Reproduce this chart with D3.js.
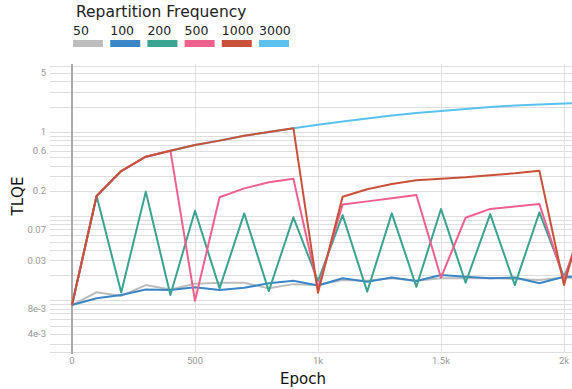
<!DOCTYPE html>
<html>
<head>
<meta charset="utf-8">
<script src="https://cdn.jsdelivr.net/npm/d3@7"></script>
<style>
  body { margin: 0; background: #fff; }
  svg { display: block; }
</style>
</head>
<body>
<div id="here"></div>
<script>
// DATA
const epochs = [0, 100, 200, 300, 400, 500, 600, 700, 800, 900, 1000,
                1100, 1200, 1300, 1400, 1500, 1600, 1700, 1800, 1900, 2000, 2100];

const freq50 = [0.0088, 0.0125, 0.0113, 0.0152, 0.0135, 0.0158, 0.0162, 0.0162, 0.0139, 0.0156, 0.0152,
                0.0175, 0.0171, 0.0183, 0.0171, 0.0183, 0.0183, 0.0185, 0.018, 0.0175, 0.0187, 0.0185];
const freq100 = [0.0088, 0.0106, 0.0116, 0.0135, 0.0133, 0.0143, 0.0133, 0.0141, 0.016, 0.0171, 0.015,
                 0.0183, 0.0167, 0.0187, 0.017, 0.020, 0.0191, 0.0183, 0.0187, 0.016, 0.0191, 0.019];
const freq200 = [0.0088, 0.174, 0.0124, 0.195, 0.0116, 0.116, 0.0139, 0.108, 0.0129, 0.097, 0.017,
                 0.103, 0.0127, 0.108, 0.0145, 0.122, 0.0162, 0.106, 0.0152, 0.111, 0.0191, 0.093];
const freq500 = [0.0088, 0.174, 0.344, 0.509, 0.6, 0.0099, 0.168, 0.214, 0.253, 0.279, 0.014,
                 0.138, 0.15, 0.163, 0.179, 0.0186, 0.096, 0.122, 0.13, 0.14, 0.0175, 0.14];
const freq1000 = [0.0088, 0.174, 0.344, 0.509, 0.6, 0.7, 0.79, 0.9, 1.0, 1.11, 0.0123,
                  0.17, 0.209, 0.241, 0.267, 0.279, 0.29, 0.306, 0.323, 0.347, 0.0152, 0.165];
const freq3000 = [0.0088, 0.174, 0.344, 0.509, 0.6, 0.7, 0.79, 0.9, 1.0, 1.11, 1.22,
                  1.33, 1.45, 1.57, 1.68, 1.78, 1.88, 1.98, 2.06, 2.12, 2.18, 2.24];

const seriesNames = ["50", "100", "200", "500", "1000", "3000"];
const seriesValues = [freq50, freq100, freq200, freq500, freq1000, freq3000];
const seriesColors = ["#bdbdbd", "#3b86c6", "#3ba391", "#f0608f", "#c9513a", "#5bc2ef"];
// order in which lines are stacked (last on top)
const drawOrder = ["3000", "50", "100", "200", "500", "1000"];

const yTickValues = [5, 1, 0.6, 0.2, 0.07, 0.03, 0.008, 0.004];
const yTickLabels = ["5", "1", "0.6", "0.2", "0.07", "0.03", "8e-3", "4e-3"];
const xTickValues = [0, 500, 1000, 1500, 2000];
const xTickLabels = ["0", "500", "1k", "1.5k", "2k"];

// Variable Declarations
const width = 572;
const height = 389;
const plot = { left: 50, right: 572, top: 64, bottom: 352 };

const svg = d3.select("#here")
  .append("svg")
  .attr("width", width)
  .attr("height", height);

// scales
const x = d3.scaleLinear()
  .domain([0, 2000])
  .range([72, 564]);

const y = d3.scaleLog()
  .domain([plotMinVal(), plotMaxVal()])
  .range([plot.bottom, plot.top]);

function plotMinVal() { return Math.pow(10, -(plot.bottom - 132) / 84.2); }
function plotMaxVal() { return Math.pow(10, (132 - plot.top) / 84.2); }

// horizontal grid (log minor lines)
const gridVals = [];
for (let k = -3; k <= 0; k++) {
  for (let m = 1; m <= 9; m++) {
    const v = m * Math.pow(10, k);
    if (v >= y.domain()[0] && v <= y.domain()[1]) gridVals.push(v);
  }
}

svg.append("g")
  .selectAll("line")
  .data(gridVals)
  .join("line")
  .attr("x1", plot.left)
  .attr("x2", plot.right)
  .attr("y1", d => Math.round(y(d)) + 0.5)
  .attr("y2", d => Math.round(y(d)) + 0.5)
  .attr("stroke", "#dedede")
  .attr("stroke-width", 1);

// bottom border
svg.append("line")
  .attr("x1", plot.left)
  .attr("x2", plot.right)
  .attr("y1", plot.bottom + 0.5)
  .attr("y2", plot.bottom + 0.5)
  .attr("stroke", "#dedede");

// vertical grid
svg.append("g")
  .selectAll("line")
  .data(xTickValues.slice(1))
  .join("line")
  .attr("x1", d => Math.round(x(d)) + 0.5)
  .attr("x2", d => Math.round(x(d)) + 0.5)
  .attr("y1", plot.top)
  .attr("y2", plot.bottom)
  .attr("stroke", "#e0e0e0");

// zero line
svg.append("line")
  .attr("x1", x(0))
  .attr("x2", x(0))
  .attr("y1", plot.top)
  .attr("y2", plot.bottom + 2)
  .attr("stroke", "#aaaaaa")
  .attr("stroke-width", 2);

// y tick labels
svg.append("g")
  .selectAll("text")
  .data(yTickValues)
  .join("text")
  .attr("x", 46)
  .attr("y", d => y(d))
  .attr("dy", "0.35em")
  .attr("text-anchor", "end")
  .attr("font-family", "Roboto, sans-serif")
  .attr("font-size", "9.5px")
  .attr("fill", "#999")
  .text((d, i) => yTickLabels[i]);

// x tick labels
svg.append("g")
  .selectAll("text")
  .data(xTickValues)
  .join("text")
  .attr("x", d => x(d))
  .attr("y", 364)
  .attr("text-anchor", "middle")
  .attr("font-family", "Roboto, sans-serif")
  .attr("font-size", "9.5px")
  .attr("fill", "#999")
  .text((d, i) => xTickLabels[i]);

// axis titles
svg.append("text")
  .attr("x", 303)
  .attr("y", 384)
  .attr("text-anchor", "middle")
  .attr("font-family", "DejaVu Sans, sans-serif")
  .attr("font-size", "15px")
  .attr("fill", "#111")
  .text("Epoch");

svg.append("text")
  .attr("transform", "translate(23,196) rotate(-90)")
  .attr("text-anchor", "middle")
  .attr("font-family", "DejaVu Sans, sans-serif")
  .attr("font-size", "15px")
  .attr("fill", "#111")
  .text("TLQE");

// clip for lines
svg.append("clipPath")
  .attr("id", "clip")
  .append("rect")
  .attr("x", plot.left)
  .attr("y", plot.top)
  .attr("width", plot.right - plot.left)
  .attr("height", plot.bottom - plot.top);

const line = d3.line()
  .x((d, i) => x(epochs[i]))
  .y(d => y(d));

svg.append("g")
  .attr("clip-path", "url(#clip)")
  .selectAll("path")
  .data(drawOrder)
  .join("path")
  .attr("fill", "none")
  .attr("stroke", d => seriesColors[seriesNames.indexOf(d)])
  .attr("stroke-width", 2)
  .attr("stroke-linejoin", "round")
  .attr("d", d => line(seriesValues[seriesNames.indexOf(d)]));

// LEGEND
svg.append("text")
  .attr("x", 76)
  .attr("y", 17)
  .attr("font-family", "DejaVu Sans, sans-serif")
  .attr("font-size", "15.5px")
  .attr("fill", "#222")
  .text("Repartition Frequency");

const legend = svg.append("g")
  .selectAll("g")
  .data(seriesNames)
  .join("g")
  .attr("transform", (d, i) => `translate(${73 + i * 37.2},0)`);

legend.append("text")
  .attr("x", 0)
  .attr("y", 35)
  .attr("font-family", "DejaVu Sans, sans-serif")
  .attr("font-size", "12.5px")
  .attr("fill", "#222")
  .text(d => d);

legend.append("rect")
  .attr("x", 0)
  .attr("y", 40)
  .attr("width", 30)
  .attr("height", 7)
  .attr("fill", (d, i) => seriesColors[i]);
</script>
</body>
</html>
